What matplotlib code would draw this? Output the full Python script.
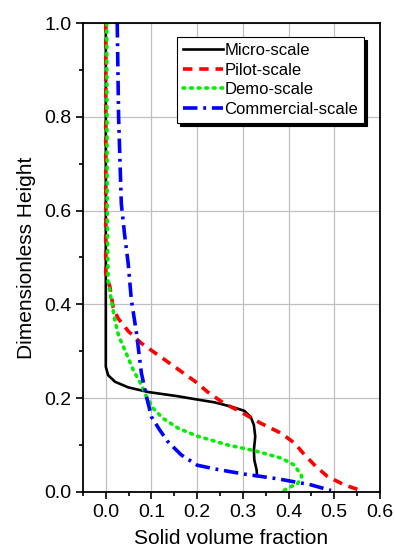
import numpy as np
import matplotlib
matplotlib.use('Agg')
import matplotlib.pyplot as plt
from matplotlib.ticker import MultipleLocator, FormatStrFormatter

plt.rcParams['font.family'] = ['Liberation Sans', 'DejaVu Sans']

# solid volume fraction (x) vs dimensionless height (y)
micro_x = [0.0, 0.0, 0.0, 0.0, 0.005, 0.02, 0.049, 0.093, 0.158, 0.194, 0.238, 0.274, 0.303,
           0.317, 0.324, 0.327, 0.324, 0.325, 0.330, 0.331]
micro_y = [1.0, 0.6, 0.345, 0.267, 0.249, 0.235, 0.223, 0.213, 0.204, 0.198, 0.191, 0.182, 0.173,
           0.160, 0.143, 0.118, 0.089, 0.068, 0.047, 0.034]

pilot_x = [0.0, 0.0, 0.0, 0.009, 0.016, 0.027, 0.049, 0.078, 0.136, 0.195, 0.223, 0.26, 0.289,
           0.34, 0.384, 0.413, 0.435, 0.46, 0.485, 0.522, 0.558]
pilot_y = [1.0, 0.6, 0.466, 0.437, 0.394, 0.37, 0.343, 0.317, 0.277, 0.236, 0.213, 0.188, 0.174,
           0.146, 0.125, 0.104, 0.079, 0.054, 0.033, 0.015, 0.003]

demo_x = [0.002, 0.003, 0.005, 0.012, 0.02, 0.028, 0.045, 0.06, 0.078, 0.089, 0.104, 0.125,
          0.158, 0.2, 0.267, 0.325, 0.384, 0.413, 0.429, 0.42, 0.398, 0.385]
demo_y = [1.0, 0.6, 0.45, 0.409, 0.366, 0.333, 0.295, 0.26, 0.228, 0.203, 0.178, 0.157,
          0.136, 0.119, 0.1, 0.088, 0.072, 0.057, 0.033, 0.018, 0.008, 0.0]

comm_x = [0.025, 0.028, 0.034, 0.041, 0.049, 0.056, 0.067, 0.078, 0.089, 0.1, 0.118, 0.136,
          0.165, 0.2, 0.238, 0.303, 0.376, 0.449, 0.493]
comm_y = [1.0, 0.8, 0.614, 0.55, 0.487, 0.409, 0.34, 0.253, 0.203, 0.16, 0.132, 0.107,
          0.079, 0.057, 0.049, 0.038, 0.028, 0.015, 0.003]

fig = plt.figure(figsize=(3.95, 5.49), dpi=100)
ax = fig.add_axes([0.210, 0.104, 0.752, 0.854])

ax.plot(micro_x, micro_y, color='black', lw=1.9, label='Micro-scale')
ax.plot(pilot_x, pilot_y, color='red', lw=2.6, ls=(0, (2.6, 1.9)), label='Pilot-scale')
ax.plot(demo_x, demo_y, color='#00ee00', lw=2.6, ls=(0, (0.5, 1.6)), dash_capstyle='round',
        label='Demo-scale')
ax.plot(comm_x, comm_y, color='blue', lw=2.6, ls=(0, (4, 1.6, 0.8, 1.6)), label='Commercial-scale')

ax.set_xlim(-0.05, 0.6)
ax.set_ylim(0.0, 1.0)
ax.xaxis.set_major_locator(MultipleLocator(0.1))
ax.xaxis.set_minor_locator(MultipleLocator(0.05))
ax.yaxis.set_major_locator(MultipleLocator(0.2))
ax.yaxis.set_minor_locator(MultipleLocator(0.1))
ax.xaxis.set_major_formatter(FormatStrFormatter('%.1f'))
ax.yaxis.set_major_formatter(FormatStrFormatter('%.1f'))
ax.grid(True, which='major', color='#c0c0c0', lw=0.9)
ax.set_axisbelow(True)
ax.tick_params(which='both', direction='out', top=False, right=False, labelsize=14, width=1.2)
ax.tick_params(which='major', length=5)
ax.tick_params(which='minor', length=3)
for s in ax.spines.values():
    s.set_linewidth(1.3)

ax.set_xlabel('Solid volume fraction', fontsize=15, labelpad=6)
ax.set_ylabel('Dimensionless Height', fontsize=15, labelpad=6)

leg = ax.legend(loc='upper right', bbox_to_anchor=(0.946, 0.970), fontsize=12, frameon=True,
                fancybox=False, shadow={'color': 'black', 'alpha': 1.0}, framealpha=1,
                edgecolor='black', handlelength=2.4, handletextpad=0.1, borderpad=0.35,
                labelspacing=0.28, borderaxespad=0.0)
leg.get_frame().set_linewidth(0.8)

fig.savefig('out.png', dpi=100)
